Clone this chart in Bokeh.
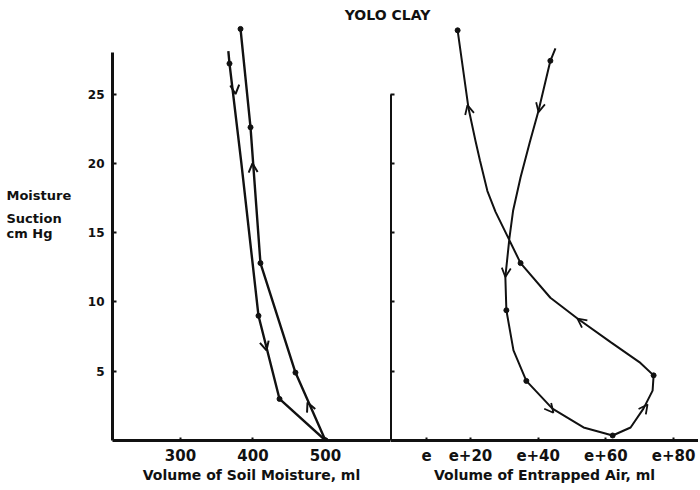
from bokeh.plotting import figure
from bokeh.layouts import column, row
from bokeh.models import ColumnDataSource, Arrow, OpenHead, Label, FixedTicker, Range1d
from bokeh.embed import file_html
from bokeh.resources import INLINE

# ---------------- data ----------------
title_text = "YOLO CLAY"
ylabel_lines = ["Moisture", "Suction", "cm Hg"]
suction_ticks = [5, 10, 15, 20, 25]

# Left panel: volume of soil moisture (ml) vs moisture suction (cm Hg)
soil_ticks = [300, 400, 500]
soil_label = "Volume of Soil Moisture, ml"
# wetting branch (arrows pointing down)
wet_x = [366.0, 367.6, 384.0, 407.6, 436.6, 500.0]
wet_y = [28.1, 27.2, 20.0, 9.0, 3.0, 0.0]
wet_dot = [False, True, False, True, True, True]
# drying branch (arrows pointing up)
dry_x = [382.8, 396.6, 410.3, 458.6, 500.0]
dry_y = [29.7, 22.6, 12.8, 4.9, 0.0]
dry_dot = [True, True, True, True, True]
soil_arrow_x0 = [372.5, 413.1, 402.1, 486.2]
soil_arrow_y0 = [27.0, 7.65, 18.0, 1.44]
soil_arrow_x1 = [375.9, 418.6, 399.3, 475.2]
soil_arrow_y1 = [25.0, 6.5, 20.0, 2.74]

# Right panel: volume of entrapped air (ml, offset e) vs suction
air_ticks = [7, 20, 40, 60, 80]
air_tick_labels = ["e", "e+20", "e+40", "e+60", "e+80"]
air_label = "Volume of Entrapped Air, ml"
air_x = [45.1, 43.6, 40.1, 37.5, 34.8, 32.6, 31.5, 30.3, 30.6, 32.7, 36.5, 44.2, 53.4, 62.0,
         67.3, 71.1, 73.8, 74.1, 70.2, 61.4, 51.6, 43.6, 34.8, 31.2, 27.4, 25.0,
         22.8, 21.5, 19.4, 16.2]
air_y = [28.3, 27.4, 23.8, 21.5, 19.0, 16.6, 14.6, 11.8, 9.4, 6.5, 4.3, 2.3, 0.94, 0.36,
         0.94, 2.3, 3.6, 4.7, 5.6, 7.1, 8.8, 10.3, 12.8, 14.6, 16.5, 18.0,
         20.2, 21.6, 24.0, 29.6]
air_dot = [False, True, False, False, False, False, False, False, True, False, True, False, False, True,
           False, False, False, True, False, False, False, False, True, False, False, False,
           False, False, False, True]
air_arrow_x0 = [20.6, 41.6, 30.9, 40.1, 69.3, 56.0]
air_arrow_y0 = [22.7, 25.3, 13.2, 3.3, 1.6, 8.0]
air_arrow_x1 = [19.1, 40.1, 30.3, 44.5, 72.3, 51.6]
air_arrow_y1 = [24.2, 23.7, 11.8, 2.0, 2.6, 8.8]

FONT = "DejaVu Sans"
INK = "#111111"


def style_axes(p, ylabels=True):
    p.grid.visible = False
    p.outline_line_color = None
    p.background_fill_color = "white"
    p.border_fill_color = "white"
    for ax in p.xaxis:
        ax.axis_line_width = 3
        ax.axis_line_color = INK
        ax.major_tick_in = 3
        ax.major_tick_out = 0
        ax.major_tick_line_width = 2
        ax.major_tick_line_color = INK
        ax.minor_tick_line_color = None
        ax.major_label_text_font = FONT
        ax.major_label_text_font_style = "bold"
        ax.major_label_text_font_size = "15px"
        ax.major_label_text_color = INK
        ax.major_label_standoff = 8
        ax.axis_label_text_font = FONT
        ax.axis_label_text_font_style = "bold"
        ax.axis_label_text_font_size = "14px"
        ax.axis_label_text_color = INK
        ax.axis_label_standoff = 3
    for ax in p.yaxis:
        ax.axis_line_width = 3
        ax.axis_line_color = INK
        ax.major_tick_in = 4
        ax.major_tick_out = 0
        ax.major_tick_line_width = 2
        ax.major_tick_line_color = INK
        ax.minor_tick_line_color = None
        ax.ticker = FixedTicker(ticks=suction_ticks, minor_ticks=[])
        if ylabels:
            ax.major_label_text_font = FONT
            ax.major_label_text_font_style = "bold"
            ax.major_label_text_font_size = "12px"
            ax.major_label_text_color = INK
            ax.major_label_standoff = 8
        else:
            ax.major_label_overrides = {k: "" for k in suction_ticks}
            ax.major_label_standoff = 0


def blank(width, height):
    f = figure(width=width, height=height, x_range=Range1d(0, 1), y_range=Range1d(0, 1),
               toolbar_location=None, x_axis_location=None, y_axis_location=None,
               min_border=0, output_backend="svg")
    f.grid.visible = False
    f.outline_line_color = None
    return f


H = 464
LW = 75
# ---------------- title strip ----------------
t = blank(698, 24)
t.add_layout(Label(x=387, y=10, x_units="screen", y_units="screen", text=title_text,
                   text_align="center", text_baseline="middle", text_font=FONT,
                   text_font_style="bold", text_font_size="14px", text_color=INK))

# ---------------- y label strip ----------------
lab = blank(LW, H)
for txt, yy in zip(ylabel_lines, [245, 222, 207]):
    lab.add_layout(Label(x=6, y=yy, x_units="screen", y_units="screen", text=txt,
                         text_align="left", text_baseline="middle", text_font=FONT,
                         text_font_style="bold", text_font_size="13px", text_color=INK))

# ---------------- left panel ----------------
a = figure(width=390 - LW, height=H, x_range=Range1d(206.2, 589.7), y_range=Range1d(0, 30.02),
           toolbar_location=None, output_backend="svg",
           min_border_left=112 - LW, min_border_right=0, min_border_top=0, min_border_bottom=48)
style_axes(a, ylabels=True)
a.xaxis.ticker = FixedTicker(ticks=soil_ticks, minor_ticks=[])
a.xaxis.axis_label = soil_label
a.yaxis.bounds = (0, 28)

a.line(wet_x, wet_y, line_width=2.4, line_color=INK)
a.line(dry_x, dry_y, line_width=2.4, line_color=INK)
a.scatter([x for x, d in zip(wet_x, wet_dot) if d], [y for y, d in zip(wet_y, wet_dot) if d],
          size=5, color=INK)
a.scatter([x for x, d in zip(dry_x, dry_dot) if d], [y for y, d in zip(dry_y, dry_dot) if d],
          size=5, color=INK)
soil_arrows = ColumnDataSource(dict(x0=soil_arrow_x0, y0=soil_arrow_y0,
                                    x1=soil_arrow_x1, y1=soil_arrow_y1))
a.add_layout(Arrow(end=OpenHead(size=9, line_width=2, line_color=INK), source=soil_arrows,
                   x_start="x0", y_start="y0", x_end="x1", y_end="y1", line_alpha=0))

# ---------------- right panel ----------------
b = figure(width=308, height=H, x_range=Range1d(-3.63, 87.36), y_range=Range1d(0, 30.02),
           toolbar_location=None, output_backend="svg",
           min_border_left=0, min_border_right=0, min_border_top=0, min_border_bottom=48)
style_axes(b, ylabels=False)
b.xaxis.ticker = FixedTicker(ticks=air_ticks, minor_ticks=[])
b.xaxis.major_label_overrides = {k: v for k, v in zip(air_ticks, air_tick_labels)}
b.xaxis.axis_label = air_label
b.yaxis.bounds = (0, 25)

b.line(air_x, air_y, line_width=2, line_color=INK)
b.scatter([x for x, d in zip(air_x, air_dot) if d], [y for y, d in zip(air_y, air_dot) if d],
          size=5, color=INK)
air_arrows = ColumnDataSource(dict(x0=air_arrow_x0, y0=air_arrow_y0,
                                   x1=air_arrow_x1, y1=air_arrow_y1))
b.add_layout(Arrow(end=OpenHead(size=9, line_width=1.8, line_color=INK), source=air_arrows,
                   x_start="x0", y_start="y0", x_end="x1", y_end="y1", line_alpha=0))

layout = column(t, row(lab, a, b))
open("out.html", "w").write(file_html(layout, INLINE))
